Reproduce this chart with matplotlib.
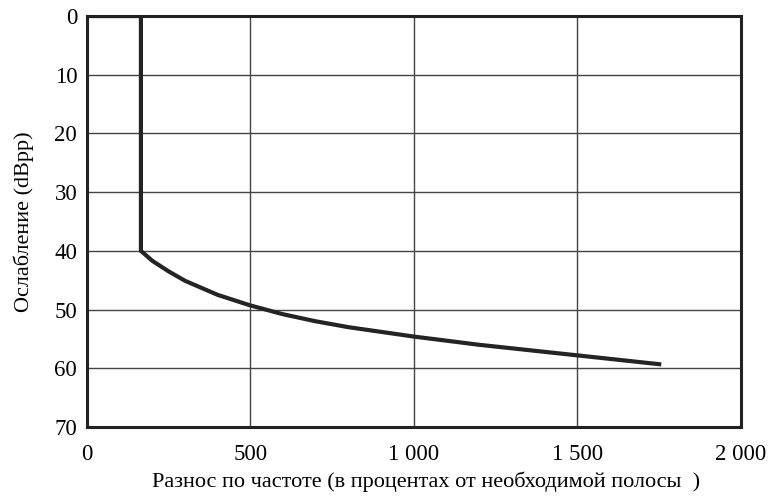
import matplotlib
matplotlib.use("Agg")
import matplotlib.pyplot as plt

# values
freq = [0, 165, 165, 200, 250, 300, 400, 500, 600, 700, 800, 1000, 1200, 1500, 1750]
atten = [0, 0, 40, 41.7, 43.5, 45.1, 47.5, 49.3, 50.8, 52.0, 53.0, 54.6, 56.0, 57.8, 59.3]
xticks = [0, 500, 1000, 1500, 2000]
xlabels = ["0", "500", "1 000", "1 500", "2 000"]
yticks = [0, 10, 20, 30, 40, 50, 60, 70]

plt.rcParams['font.family'] = ['Liberation Serif', 'DejaVu Serif']

fig = plt.figure(figsize=(7.71, 4.96), dpi=100)
ax = fig.add_axes([0.1128, 0.1391, 0.8482, 0.8286])

ax.plot(freq, atten, color='#222426', lw=3, solid_joinstyle='miter')
ax.set_xlim(0, 2000)
ax.set_ylim(70, 0)
ax.set_xticks(xticks, xlabels)
ax.set_yticks(yticks)
ax.tick_params(length=0, labelsize=16.5)
ax.tick_params(axis='y', pad=7)
ax.tick_params(axis='x', pad=12)
ax.grid(True, color='#444444', lw=1)
for s in ax.spines.values():
    s.set_linewidth(2.2)
    s.set_color('#222222')

ax.set_xlabel("Разнос по частоте (в процентах от необходимой полосы  )", fontsize=16)
ax.set_ylabel("Ослабление (dBpp)", fontsize=16, labelpad=15)
ax.xaxis.set_label_coords(0.518, -0.108)

fig.savefig("out.png", dpi=100)
